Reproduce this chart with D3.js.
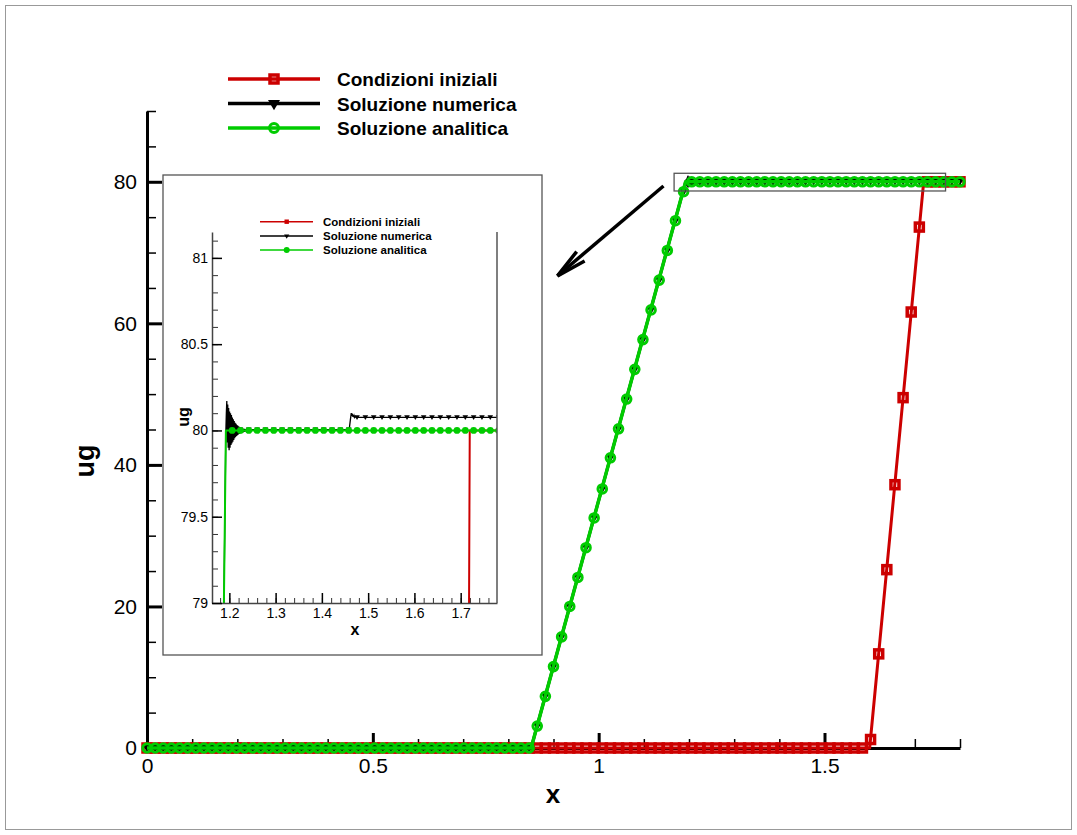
<!DOCTYPE html>
<html>
<head>
<meta charset="utf-8">
<script src="https://cdn.jsdelivr.net/npm/d3@7"></script>
<style>
body { margin: 0; background: #fff; }
text { font-family: "Liberation Sans", Arial, Helvetica, sans-serif; }
</style>
</head>
<body>
<svg id="chart" width="1077" height="835"></svg>
<script>
// ---- data ----
const seriesNames = ["Condizioni iniziali", "Soluzione numerica", "Soluzione analitica"];

// x positions of the plotted symbols (every symbol point of the grid)
const gridX = [
  0, 0.018, 0.036, 0.054, 0.072, 0.09, 0.108, 0.126, 0.144, 0.162, 0.18, 0.198, 0.216, 0.234, 0.252, 0.27, 0.288, 0.306, 0.324, 0.342,
  0.36, 0.378, 0.396, 0.414, 0.432, 0.45, 0.468, 0.486, 0.504, 0.522, 0.54, 0.558, 0.576, 0.594, 0.612, 0.63, 0.648, 0.666, 0.684, 0.702,
  0.72, 0.738, 0.756, 0.774, 0.792, 0.81, 0.828, 0.846, 0.864, 0.882, 0.9, 0.918, 0.936, 0.954, 0.972, 0.99, 1.008, 1.026, 1.044, 1.062,
  1.08, 1.098, 1.116, 1.134, 1.152, 1.17, 1.188, 1.206, 1.224, 1.242, 1.26, 1.278, 1.296, 1.314, 1.332, 1.35, 1.368, 1.386, 1.404, 1.422,
  1.44, 1.458, 1.476, 1.494, 1.512, 1.53, 1.548, 1.566, 1.584, 1.602, 1.62, 1.638, 1.656, 1.674, 1.692, 1.71, 1.728, 1.746, 1.764, 1.782, 1.8
];
const initialMarks = [
  0, 0, 0, 0, 0, 0, 0, 0, 0, 0, 0, 0, 0, 0, 0, 0, 0, 0, 0, 0,
  0, 0, 0, 0, 0, 0, 0, 0, 0, 0, 0, 0, 0, 0, 0, 0, 0, 0, 0, 0,
  0, 0, 0, 0, 0, 0, 0, 0, 0, 0, 0, 0, 0, 0, 0, 0, 0, 0, 0, 0,
  0, 0, 0, 0, 0, 0, 0, 0, 0, 0, 0, 0, 0, 0, 0, 0, 0, 0, 0, 0,
  0, 0, 0, 0, 0, 0, 0, 0, 0, 1.2, 13.3, 25.2, 37.2, 49.5, 61.6, 73.6, 80, 80, 80, 80, 80
];
const numericMarks = [
  0, 0, 0, 0, 0, 0, 0, 0, 0, 0, 0, 0, 0, 0, 0, 0, 0, 0, 0, 0,
  0, 0, 0, 0, 0, 0, 0, 0, 0, 0, 0, 0, 0, 0, 0, 0, 0, 0, 0, 0,
  0, 0, 0, 0, 0, 0, 0, 0, 3.1, 7.3, 11.5, 15.7, 20.0, 24.1, 28.3, 32.5, 36.6, 41.0, 45.1, 49.3,
  53.5, 57.7, 61.9, 66.1, 70.3, 74.5, 78.6, 80.005, 80.005, 80.005, 80.005, 80.005, 80.005, 80.005, 80.005, 80.005, 80.005, 80.005, 80.005, 80.005,
  80.005, 80.005, 80.076, 80.076, 80.076, 80.076, 80.076, 80.076, 80.076, 80.076, 80.076, 80.076, 80.076, 80.076, 80.076, 80.076, 80.076, 80.076, 80.076, 80.076, 80.076
];
const analyticMarks = [
  0, 0, 0, 0, 0, 0, 0, 0, 0, 0, 0, 0, 0, 0, 0, 0, 0, 0, 0, 0,
  0, 0, 0, 0, 0, 0, 0, 0, 0, 0, 0, 0, 0, 0, 0, 0, 0, 0, 0, 0,
  0, 0, 0, 0, 0, 0, 0, 0, 3.1, 7.3, 11.5, 15.7, 20.0, 24.1, 28.3, 32.5, 36.6, 41.0, 45.1, 49.3,
  53.5, 57.7, 61.9, 66.1, 70.3, 74.5, 78.6, 80, 80, 80, 80, 80, 80, 80, 80, 80, 80, 80, 80, 80,
  80, 80, 80, 80, 80, 80, 80, 80, 80, 80, 80, 80, 80, 80, 80, 80, 80, 80, 80, 80, 80
];

// the lines themselves (corner points, incl. the numeric wiggles seen in the inset)
const initialLine = [[0, 0], [1.6, 0], [1.7196, 80], [1.8, 80]];
const analyticLine = [[0, 0], [0.8505, 0], [1.1925, 80], [1.8, 80]];
const numericLine = [
  [0, 0], [0.8505, 0], [1.1925, 80.0],
  [1.1935, 80.10], [1.1945, 80.17], [1.1955, 79.93], [1.1965, 80.15], [1.1975, 79.90], [1.1985, 80.13],
  [1.1995, 79.885], [1.2005, 80.11], [1.2015, 79.90], [1.2025, 80.10], [1.2035, 79.915], [1.2045, 80.09],
  [1.2055, 79.925], [1.2065, 80.075], [1.2075, 79.935], [1.2085, 80.065], [1.2095, 79.945], [1.2105, 80.055],
  [1.2115, 79.955], [1.2125, 80.045], [1.2135, 79.962], [1.2145, 80.038], [1.2155, 79.968], [1.2165, 80.032],
  [1.2175, 79.972], [1.2185, 80.027], [1.2195, 79.976], [1.2205, 80.023], [1.2215, 79.979], [1.2225, 80.02],
  [1.2235, 79.982], [1.2245, 80.017], [1.2255, 79.985], [1.2265, 80.014], [1.2275, 79.987], [1.2285, 80.012],
  [1.2295, 79.989], [1.2305, 80.01], [1.2315, 79.991], [1.2325, 80.009], [1.2335, 79.993], [1.2345, 80.008],
  [1.2355, 79.995], [1.2365, 80.007], [1.2375, 79.997], [1.2385, 80.006], [1.2395, 79.999], [1.2425, 80.005],
  [1.459, 80.005], [1.4615, 80.06], [1.4635, 80.10], [1.4645, 80.085], [1.4655, 80.097], [1.4665, 80.08],
  [1.4675, 80.09], [1.4685, 80.077], [1.4695, 80.086], [1.4705, 80.076], [1.472, 80.082], [1.474, 80.076],
  [1.8, 80.076]
];

// ticks
const xTicks = [0, 0.5, 1, 1.5];
const yTicks = [0, 20, 40, 60, 80];
const insetXTicks = [1.2, 1.3, 1.4, 1.5, 1.6, 1.7];
const insetYTicks = [79, 79.5, 80, 80.5, 81];

// zoom box and arrow (in main data units)
const zoomBoxX = [1.167, 1.768];
const zoomBoxY = [78.7, 81.2];
const arrowPts = [[1.1435, 79.4], [0.9088, 66.7]];

const colors = ["#cc0000", "#000000", "#00cc00"];

// ---- drawing ----
const svg = d3.select("#chart");
svg.append("rect").attr("x", 5.5).attr("y", 5.5).attr("width", 1066).attr("height", 824)
  .attr("fill", "#fff").attr("stroke", "#999").attr("stroke-width", 1);

const x = d3.scaleLinear().domain([0, 1.8]).range([147, 960]);
const y = d3.scaleLinear().domain([0, 90]).range([748, 111]);

function styleAxis(g, w, size) {
  g.attr("font-size", size).attr("font-family", "Liberation Sans, Arial, sans-serif");
  g.select(".domain").attr("stroke", "#000").attr("stroke-width", w);
  g.selectAll(".tick line").attr("stroke", "#000").attr("stroke-width", w);
  g.selectAll(".tick text").attr("fill", "#000");
}

// minor ticks
svg.append("g").attr("transform", "translate(0,748)")
  .call(d3.axisBottom(x).tickValues(x.ticks(18)).tickSize(-9).tickFormat(""))
  .call(g => { g.select(".domain").remove(); g.selectAll("line").attr("stroke", "#000").attr("stroke-width", 1.5); });
svg.append("g").attr("transform", "translate(147,0)")
  .call(d3.axisLeft(y).tickValues(y.ticks(18)).tickSize(-9).tickFormat(""))
  .call(g => { g.select(".domain").remove(); g.selectAll("line").attr("stroke", "#000").attr("stroke-width", 1.5); });

// major ticks
svg.append("g").attr("transform", "translate(0,748)")
  .call(d3.axisBottom(x).tickValues(xTicks).tickSize(-15).tickSizeOuter(0).tickPadding(10).tickFormat(d3.format("~g")))
  .call(g => styleAxis(g, 3, 21));
svg.append("g").attr("transform", "translate(147,0)")
  .call(d3.axisLeft(y).tickValues(yTicks).tickSize(-15).tickSizeOuter(0).tickPadding(10).tickFormat(d3.format("~g")))
  .call(g => styleAxis(g, 3, 21));

svg.append("text").attr("x", 553).attr("y", 803).attr("text-anchor", "middle")
  .attr("font-size", 26).attr("font-weight", "bold").text("x");
svg.append("text").attr("transform", "translate(94,461) rotate(-90)").attr("text-anchor", "middle")
  .attr("font-size", 27).attr("font-weight", "bold").text("ug");

const pts = vals => gridX.map((d, i) => [d, vals[i]]);
const triPath = w => `M${-w},${-w * 0.75}L${w},${-w * 0.75}L0,${w * 0.95}Z`;

function drawSeries(g, sx, sy, opt) {
  const line = d3.line().x(d => sx(d[0])).y(d => sy(d[1]));
  const m = opt.marks;
  // initial
  g.append("path").datum(initialLine).attr("d", line).attr("fill", "none")
    .attr("stroke", colors[0]).attr("stroke-width", opt.lw[0]).attr("stroke-linejoin", "round");
  g.selectAll(".sq").data(pts(initialMarks)).join("rect").attr("class", "sq")
    .attr("x", d => sx(d[0]) - m.sq / 2).attr("y", d => sy(d[1]) - m.sq / 2)
    .attr("width", m.sq).attr("height", m.sq)
    .attr("fill", m.filled ? colors[0] : "none").attr("stroke", colors[0]).attr("stroke-width", m.sqw);
  // numeric
  g.append("path").datum(numericLine).attr("d", line).attr("fill", "none")
    .attr("stroke", colors[1]).attr("stroke-width", opt.lw[1]).attr("stroke-linejoin", "miter");
  g.selectAll(".tri").data(pts(numericMarks)).join("path").attr("class", "tri")
    .attr("transform", d => `translate(${sx(d[0])},${sy(d[1])})`)
    .attr("d", triPath(m.tri)).attr("fill", colors[1]);
  // analytic
  g.append("path").datum(analyticLine).attr("d", line).attr("fill", "none")
    .attr("stroke", colors[2]).attr("stroke-width", opt.lw[2]).attr("stroke-linejoin", "round");
  g.selectAll(".cir").data(pts(analyticMarks)).join("circle").attr("class", "cir")
    .attr("cx", d => sx(d[0])).attr("cy", d => sy(d[1])).attr("r", m.r)
    .attr("fill", m.filled ? colors[2] : "none").attr("stroke", colors[2]).attr("stroke-width", m.cw);
}

drawSeries(svg.append("g"), x, y, {
  lw: [3, 3, 3.5],
  marks: { sq: 8, sqw: 3.5, tri: 4.5, r: 4.3, cw: 3, filled: false }
});

// ---- main legend ----
const leg = svg.append("g");
seriesNames.forEach((name, i) => {
  const ly = 79 + i * 24.5;
  leg.append("line").attr("x1", 228).attr("x2", 320).attr("y1", ly).attr("y2", ly)
    .attr("stroke", colors[i]).attr("stroke-width", 3.5);
  if (i === 0) leg.append("rect").attr("x", 274 - 4).attr("y", ly - 4).attr("width", 8).attr("height", 8)
    .attr("fill", "none").attr("stroke", colors[0]).attr("stroke-width", 3.5);
  if (i === 1) leg.append("path").attr("transform", `translate(274,${ly + 1})`).attr("d", triPath(6)).attr("fill", "#000");
  if (i === 2) leg.append("circle").attr("cx", 274).attr("cy", ly).attr("r", 4.5)
    .attr("fill", "none").attr("stroke", colors[2]).attr("stroke-width", 3);
  leg.append("text").attr("x", 337).attr("y", ly + 7).attr("font-size", 19).attr("font-weight", "bold").text(name);
});

// ---- zoom box and arrow ----
svg.append("rect").attr("x", x(zoomBoxX[0])).attr("y", y(zoomBoxY[1]))
  .attr("width", x(zoomBoxX[1]) - x(zoomBoxX[0])).attr("height", y(zoomBoxY[0]) - y(zoomBoxY[1]))
  .attr("fill", "none").attr("stroke", "#555").attr("stroke-width", 1.3);

const [sx0, sy0] = [x(arrowPts[0][0]), y(arrowPts[0][1])];
const [tx0, ty0] = [x(arrowPts[1][0]), y(arrowPts[1][1])];
const ang = Math.atan2(sy0 - ty0, sx0 - tx0);
svg.append("line").attr("x1", sx0).attr("y1", sy0).attr("x2", tx0).attr("y2", ty0)
  .attr("stroke", "#000").attr("stroke-width", 3.5);
svg.append("path").attr("d", d3.line()([
  [tx0 + 31 * Math.cos(ang + 0.2), ty0 + 31 * Math.sin(ang + 0.2)], [tx0, ty0],
  [tx0 + 31 * Math.cos(ang - 0.2), ty0 + 31 * Math.sin(ang - 0.2)]
])).attr("fill", "none").attr("stroke", "#000").attr("stroke-width", 3.5).attr("stroke-linejoin", "miter");

// ---- inset ----
const inset = svg.append("g");
inset.append("rect").attr("x", 163).attr("y", 175).attr("width", 379).attr("height", 480)
  .attr("fill", "#fff").attr("stroke", "#555").attr("stroke-width", 1.3);

const ix = d3.scaleLinear().domain([1.1625, 1.7785]).range([212, 497]);
const iy = d3.scaleLinear().domain([79, 81.15]).range([603, 232]);

svg.append("clipPath").attr("id", "inclip").append("rect")
  .attr("x", 212).attr("y", 232).attr("width", 285).attr("height", 371);

inset.append("g").attr("transform", "translate(0,603)")
  .call(d3.axisBottom(ix).tickValues(ix.ticks(30)).tickSize(-5).tickFormat(""))
  .call(g => { g.select(".domain").remove(); g.selectAll("line").attr("stroke", "#333").attr("stroke-width", 1); });
inset.append("g").attr("transform", "translate(212,0)")
  .call(d3.axisLeft(iy).tickValues(iy.ticks(20)).tickSize(-6).tickFormat(""))
  .call(g => { g.select(".domain").remove(); g.selectAll("line").attr("stroke", "#333").attr("stroke-width", 1); });

const inPlot = inset.append("g").attr("clip-path", "url(#inclip)");
drawSeries(inPlot, ix, iy, {
  lw: [2, 1.3, 2],
  marks: { sq: 4, sqw: 0, tri: 2.8, r: 3.4, cw: 0, filled: true }
});

inset.append("g").attr("transform", "translate(0,603)")
  .call(d3.axisBottom(ix).tickValues(insetXTicks).tickSize(-10).tickSizeOuter(0).tickPadding(5).tickFormat(d3.format(".1f")))
  .call(g => styleAxis(g, 1.5, 14));
inset.append("g").attr("transform", "translate(212,0)")
  .call(d3.axisLeft(iy).tickValues(insetYTicks).tickSize(-10).tickSizeOuter(0).tickPadding(4).tickFormat(d3.format("~g")))
  .call(g => styleAxis(g, 1.5, 14));
inset.selectAll(".domain").attr("stroke", "#444");
inset.append("line").attr("x1", 497).attr("x2", 497).attr("y1", 232).attr("y2", 603)
  .attr("stroke", "#555").attr("stroke-width", 1.5);

inset.append("text").attr("x", 355).attr("y", 635).attr("text-anchor", "middle")
  .attr("font-size", 16).attr("font-weight", "bold").text("x");
inset.append("text").attr("transform", "translate(189,417) rotate(-90)").attr("text-anchor", "middle")
  .attr("font-size", 16).attr("font-weight", "bold").text("ug");

seriesNames.forEach((name, i) => {
  const ly = 221.7 + i * 14.2;
  inset.append("line").attr("x1", 260).attr("x2", 313).attr("y1", ly).attr("y2", ly)
    .attr("stroke", colors[i]).attr("stroke-width", 1.5);
  if (i === 0) inset.append("rect").attr("x", 284.5).attr("y", ly - 2.2).attr("width", 4.4).attr("height", 4.4).attr("fill", colors[0]);
  if (i === 1) inset.append("path").attr("transform", `translate(286.7,${ly + 0.5})`).attr("d", triPath(2.6)).attr("fill", "#000");
  if (i === 2) inset.append("circle").attr("cx", 286.7).attr("cy", ly).attr("r", 3).attr("fill", colors[2]);
  inset.append("text").attr("x", 323).attr("y", ly + 4).attr("font-size", 11.5).attr("font-weight", "bold").text(name);
});
</script>
</body>
</html>
